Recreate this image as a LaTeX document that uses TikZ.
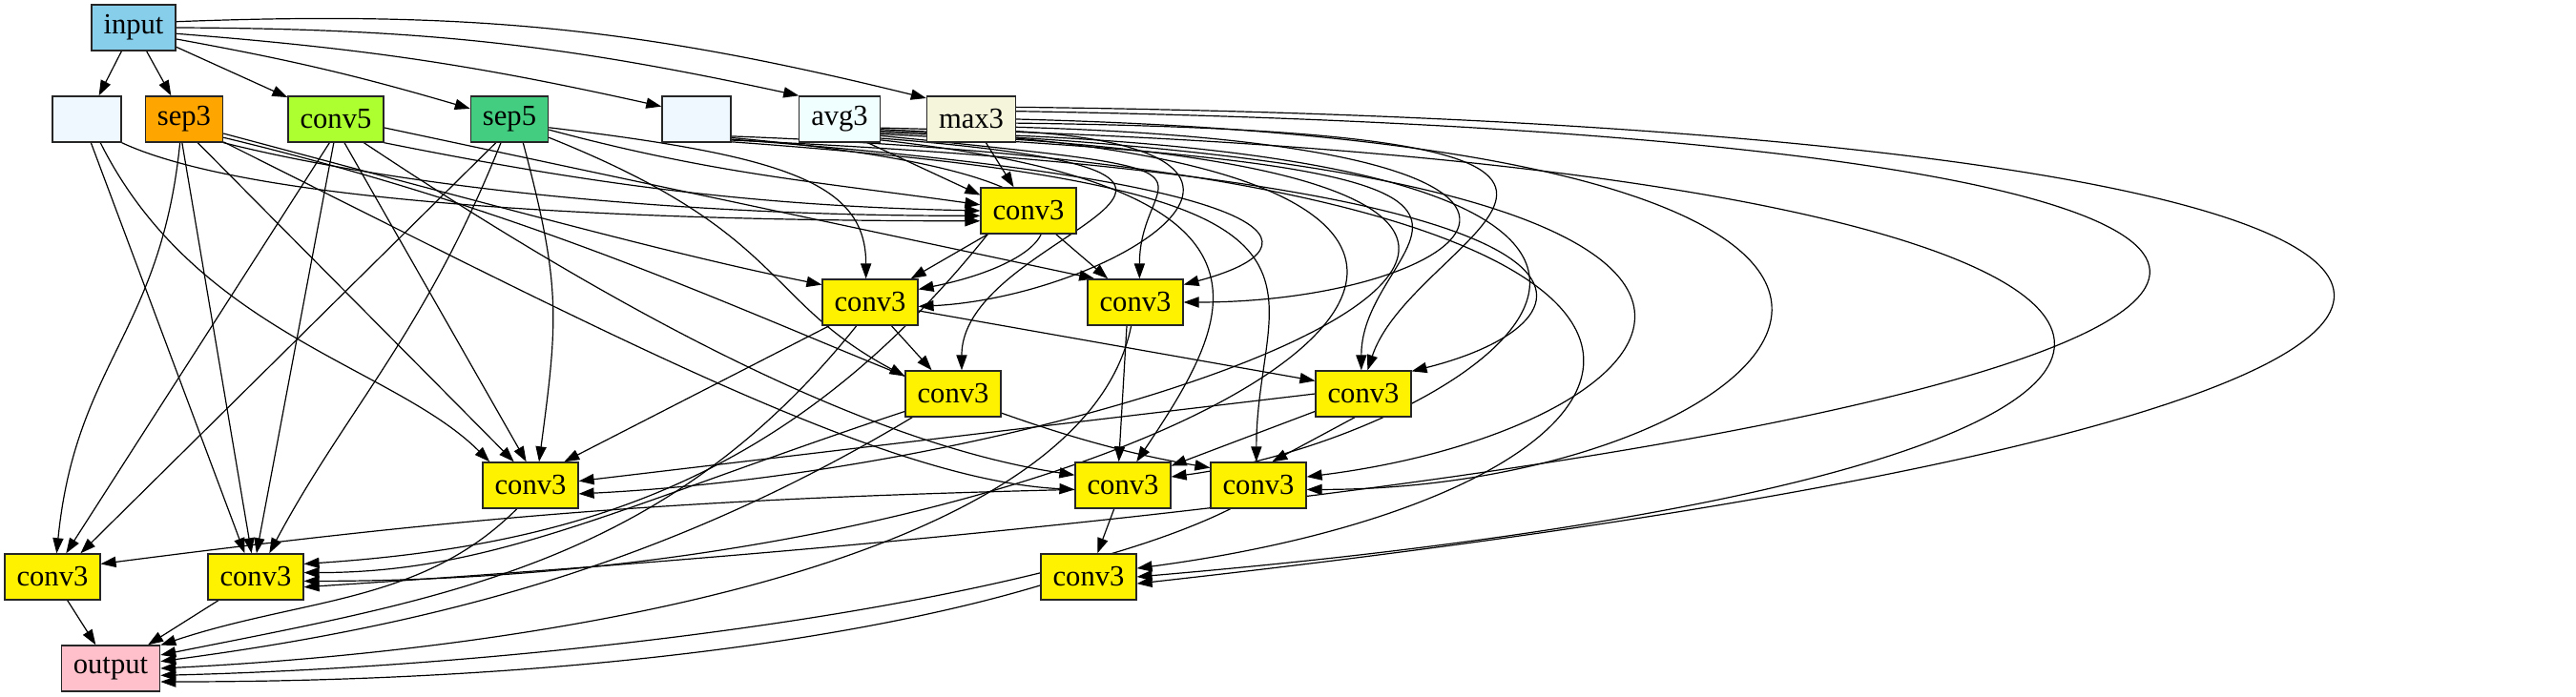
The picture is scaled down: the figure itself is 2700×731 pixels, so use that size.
\documentclass[tikz,border=0pt]{standalone}
\usepackage{fontspec}
\setmainfont{Liberation Serif}
\newfontfamily\opfont{Liberation Serif}
\usetikzlibrary{arrows.meta,backgrounds}
\definecolor{skyblue}{HTML}{87CEEB}
\definecolor{aliceblue}{HTML}{F0F8FF}
\definecolor{orangeop}{HTML}{FFA500}
\definecolor{greenyellow}{HTML}{ADFF2F}
\definecolor{seagreen}{HTML}{43CD80}
\definecolor{azure}{HTML}{F0FFFF}
\definecolor{beige}{HTML}{F5F5DC}
\definecolor{pinkout}{HTML}{FFC0CB}
\begin{document}
\begin{tikzpicture}[x=0.5pt,y=0.5pt,
    op/.style={draw=black!85,line width=0.7pt,minimum width=36pt,minimum height=24pt,
      inner xsep=6.25pt,inner ysep=0pt,font=\opfont\fontsize{15.3pt}{18pt}\selectfont},
    cv/.style={op,fill=yellow},
    edge/.style={line width=0.6pt,-{Triangle[length=8pt,width=5.6pt]}}]
    \useasboundingbox (0,0) rectangle (2700,-731);

    \node[op,fill=skyblue] (input) at (140,-29) {input};

    \node[op,fill=aliceblue] (b1) at (91,-125) {};
    \node[op,fill=orangeop] (sep3) at (193,-125) {sep3};
    \node[op,fill=greenyellow] (conv5) at (352,-125) {conv5};
    \node[op,fill=seagreen] (sep5) at (534,-125) {sep5};
    \node[op,fill=aliceblue] (b2) at (730,-125) {};
    \node[op,fill=azure] (avg3) at (880,-125) {avg3};
    \node[op,fill=beige] (max3) at (1018,-125) {max3};

    \node[cv] (A) at (1078,-221) {conv3};
    \node[cv] (B) at (912,-317) {conv3};
    \node[cv] (C) at (1190,-317) {conv3};
    \node[cv] (D) at (999,-413) {conv3};
    \node[cv] (E) at (1429,-413) {conv3};
    \node[cv] (F) at (556,-509) {conv3};
    \node[cv] (G) at (1177,-509) {conv3};
    \node[cv] (H) at (1319,-509) {conv3};
    \node[cv] (I) at (55,-605) {conv3};
    \node[cv] (J) at (268,-605) {conv3};
    \node[cv] (K) at (1141,-605) {conv3};

    \node[op,fill=pinkout] (out) at (116,-701) {output};

    \begin{scope}[on background layer]
    \draw[edge] (input) -- (b1);
    \draw[edge] (input) -- (sep3);
    \draw[edge] (input) -- (conv5);
    \draw[edge] (input.-15) to[bend left=3] (sep5.165);
    \draw[edge] (input.-8) to[bend left=4] (b2.160);
    \draw[edge] (input.0) to[bend left=6] (avg3.150);
    \draw[edge] (input.8) to[bend left=8] (max3.155);

    \draw[edge] (b1.south east) .. controls +(150,-70) and +(-300,0) .. (A.192);
    \draw[edge] (sep3.south east) .. controls +(200,-50) and +(-300,0) .. (A.186);
    \draw[edge] (conv5.south east) .. controls +(200,-40) and +(-250,5) .. (A.180);
    \draw[edge] (sep5.-15) to[out=-15,in=172] (A.173);
    \draw[edge] (avg3.-40) -- (A.162);
    \draw[edge] (max3) -- (A);

    \draw[edge] (sep3.-20) .. controls +(300,-80) and +(-150,30) .. (B.160);
    \draw[edge] (sep5.-12) .. controls +(250,-30) and +(0,100) .. (B.100);
    \draw[edge] (A) -- (B);
    \draw[edge] (b2.-28) .. controls +(450,-40) and +(150,30) .. (B.15);
    \draw[edge] (max3.-15) .. controls +(350,-20) and +(200,10) .. (B.-5);

    \draw[edge] (A) -- (C);
    \draw[edge] (conv5.-10) -- (C.150);
    \draw[edge] (avg3.-22) .. controls +(400,-40) and +(0,120) .. (C.80);
    \draw[edge] (b2.-30) .. controls +(600,-45) and +(150,40) .. (C.20);
    \draw[edge] (max3.-10) .. controls +(700,-20) and +(300,0) .. (C.east);

    \draw[edge] (sep5.-25) .. controls +(250,-100) and +(-150,80) .. (D.160);
    \draw[edge] (B) -- (D);
    \draw[edge] (avg3.-25) .. controls +(500,-40) and +(0,150) .. (D.70);

    \draw[edge] (B.-10) -- (E.165);
    \draw[edge] (avg3.-20) .. controls +(800,-40) and +(0,150) .. (E.95);
    \draw[edge] (max3.-5) .. controls +(800,-10) and +(50,150) .. (E.80);
    \draw[edge] (b2.-31) .. controls +(1000,-45) and +(200,50) .. (E.25);

    \draw[edge] (b1.-60) .. controls +(100,-200) and +(-100,100) .. (F.150);
    \draw[edge] (sep3.-60) -- (F.125);
    \draw[edge] (conv5.-70) -- (F.100);
    \draw[edge] (sep5.-60) .. controls +(40,-150) and +(20,150) .. (F.70);
    \draw[edge] (B.-150) -- (F.35);
    \draw[edge] (E.west) -- (F.5);
    \draw[edge] (avg3.-18) .. controls +(1100,-40) and +(600,30) .. (F.-10);

    \draw[edge] (sep3.-30) .. controls +(400,-200) and +(-200,10) .. (G.185);
    \draw[edge] (conv5.-40) .. controls +(300,-200) and +(-200,30) .. (G.168);
    \draw[edge] (C.-110) -- (G.100);
    \draw[edge] (E.-160) -- (G.22);
    \draw[edge] (avg3.-27) .. controls +(450,-50) and +(100,150) .. (G.60);
    \draw[edge] (max3.-20) .. controls +(900,-40) and +(300,40) .. (G.10);

    \draw[edge] (sep3.-25) .. controls +(500,-120) and +(-300,50) .. (H.160);
    \draw[edge] (E.-110) -- (H.60);
    \draw[edge] (b2.-33) .. controls +(700,-50) and +(0,200) .. (H.95);
    \draw[edge] (avg3.-16) .. controls +(1100,-40) and +(400,50) .. (H.10);
    \draw[edge] (max3.0) .. controls +(1200,-30) and +(500,0) .. (H.-5);

    \draw[edge] (sep3.-100) .. controls +(-20,-200) and +(20,200) .. (I.80);
    \draw[edge] (conv5.-105) -- (I.60);
    \draw[edge] (sep5.-120) -- (I.40);
    \draw[edge] (G.185) to[bend right=3] (I.15);

    \draw[edge] (b1.-80) -- (J.115);
    \draw[edge] (sep3.-95) -- (J.100);
    \draw[edge] (conv5.-95) -- (J.88);
    \draw[edge] (sep5.-110) .. controls +(-80,-200) and +(80,150) .. (J.60);
    \draw[edge] (A.-150) .. controls +(-200,-250) and +(300,20) .. (J.15);
    \draw[edge] (D.-160) .. controls +(-300,-100) and +(200,0) .. (J.5);
    \draw[edge] (avg3.-14) .. controls +(1000,-40) and +(900,0) .. (J.-5);
    \draw[edge] (max3.10) .. controls +(1800,-30) and +(2300,150) .. (J.-12);

    \draw[edge] (G) -- (K);
    \draw[edge] (b2.-26) .. controls +(1200,-45) and +(600,80) .. (K.10);
    \draw[edge] (avg3.-12) .. controls +(1500,-35) and +(1400,120) .. (K.0);
    \draw[edge] (max3.15) .. controls +(1700,-20) and +(1800,200) .. (K.-8);

    \draw[edge] (I) -- (out);
    \draw[edge] (J) -- (out);
    \draw[edge] (F.-120) .. controls +(-100,-100) and +(150,50) .. (out.25);
    \draw[edge] (B.-120) .. controls +(-200,-250) and +(300,60) .. (out.15);
    \draw[edge] (D.-150) .. controls +(-250,-150) and +(300,40) .. (out.8);
    \draw[edge] (C.-100) .. controls +(-50,-250) and +(400,20) .. (out.0);
    \draw[edge] (H.-140) .. controls +(-200,-100) and +(400,10) .. (out.-8);
    \draw[edge] (K.-170) .. controls +(-200,-60) and +(400,0) .. (out.-15);
    \end{scope}
\end{tikzpicture}
\end{document}
